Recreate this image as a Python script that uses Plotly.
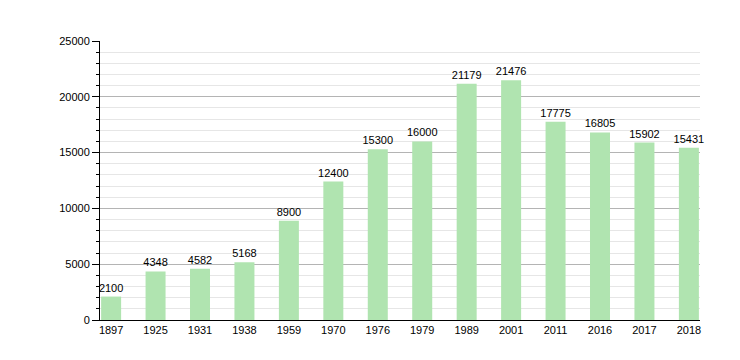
import plotly.graph_objects as go

years = ["1897", "1925", "1931", "1938", "1959", "1970", "1976", "1979", "1989", "2001", "2011", "2016", "2017", "2018"]
population = [2100, 4348, 4582, 5168, 8900, 12400, 15300, 16000, 21179, 21476, 17775, 16805, 15902, 15431]

fig = go.Figure(go.Bar(
    x=years, y=population,
    text=[str(v) for v in population],
    textposition="outside",
    constraintext="none",
    textfont=dict(size=11, color="black", family="Liberation Sans, Arial, sans-serif"),
    cliponaxis=False,
    marker=dict(color="#b0e4b0", line=dict(width=0)),
    width=0.45,
))

fig.update_layout(
    width=740, height=360,
    margin=dict(l=92, r=48, t=33, b=48),
    paper_bgcolor="white", plot_bgcolor="white",
    font=dict(family="Liberation Sans, Arial, sans-serif", size=11, color="black"),
    showlegend=False,
    bargap=0.55,
)
fig.update_xaxes(
    type="category", range=[-0.25, 13.25],
    showline=True, linecolor="black", linewidth=1,
    ticks="", showgrid=False, tickfont=dict(size=11),
)
fig.update_yaxes(
    range=[0, 25000], dtick=5000, tickformat="d",
    showline=True, linecolor="black", linewidth=1,
    ticks="outside", ticklen=7, tickcolor="black",
    showgrid=True, gridcolor="#b4b4b4", gridwidth=1,
    zeroline=False,
    minor=dict(dtick=1000, ticks="outside", ticklen=3, tickcolor="black",
               showgrid=True, gridcolor="#e6e6e6", gridwidth=1),
    tickfont=dict(size=11),
)

fig.write_html("out.html")
